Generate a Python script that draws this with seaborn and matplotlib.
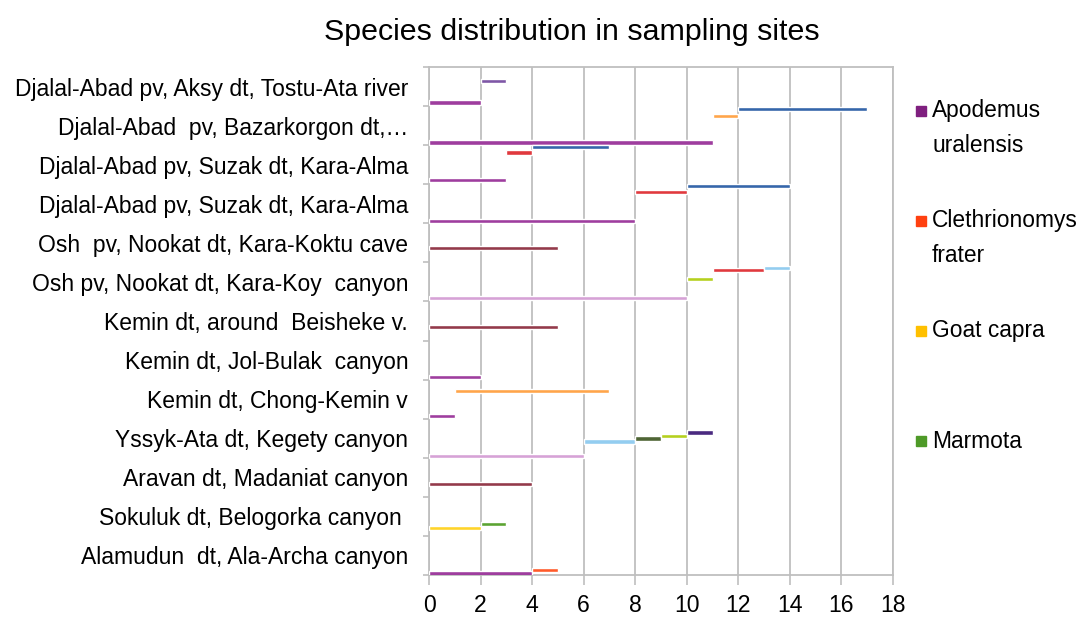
import matplotlib
matplotlib.use("Agg")
import matplotlib.pyplot as plt
from matplotlib import font_manager
from matplotlib.patches import Rectangle
import numpy as np
import pandas as pd
import seaborn as sns

# %%
# data (sites listed top to bottom)
sites = [
    "Djalal-Abad pv, Aksy dt, Tostu-Ata river",
    "Djalal-Abad  pv, Bazarkorgon dt,\u2026",
    "Djalal-Abad pv, Suzak dt, Kara-Alma",
    "Djalal-Abad pv, Suzak dt, Kara-Alma",
    "Osh  pv, Nookat dt, Kara-Koktu cave",
    "Osh pv, Nookat dt, Kara-Koy  canyon",
    "Kemin dt, around  Beisheke v.",
    "Kemin dt, Jol-Bulak  canyon",
    "Kemin dt, Chong-Kemin v",
    "Yssyk-Ata dt, Kegety canyon",
    "Aravan dt, Madaniat canyon",
    "Sokuluk dt, Belogorka canyon ",
    "Alamudun  dt, Ala-Archa canyon",
]

# stacked segments, in stacking order within each site
seg_site = [0, 0, 1, 1, 1, 2, 2, 2, 3, 3, 3, 4, 5, 5, 5, 5, 6, 7, 8, 8,
            9, 9, 9, 9, 9, 10, 11, 11, 12, 12]
seg_value = [2, 1, 11, 1, 5, 3, 1, 3, 8, 2, 4, 5, 10, 1, 2, 1, 5, 2, 1, 6,
             6, 2, 1, 1, 1, 4, 2, 1, 4, 1]

legend_labels = ["Apodemus\nuralensis", "Clethrionomys\nfrater", "Goat capra", "Marmota"]
x_ticks = list(range(0, 19, 2))

# %%
# styling / layout (not data)
seg_color = ["#9E3D9E", "#7E57A6",
             "#9E3D9E", "#FFA54A", "#3566AA",
             "#9E3D9E", "#E0393E", "#3566AA",
             "#9E3D9E", "#E0393E", "#3566AA",
             "#933A4A",
             "#D6A2D6", "#B5D01E", "#E0393E", "#93CDF0",
             "#933A4A",
             "#9E3D9E",
             "#9E3D9E", "#FFA54A",
             "#D6A2D6", "#93CDF0", "#4F6535", "#B5D01E", "#4A2A80",
             "#933A4A",
             "#FFD42A", "#5BA332",
             "#9E3D9E", "#FF5A2A"]
# vertical position of each segment inside its band (fraction from band top)
seg_offset = [0.91, 0.35,
              0.93, 0.25, 0.08,
              0.90, 0.19, 0.05,
              0.94, 0.20, 0.05,
              0.64,
              0.92, 0.42, 0.20, 0.15,
              0.66,
              0.93,
              0.94, 0.30,
              0.95, 0.58, 0.51, 0.44, 0.35,
              0.67,
              0.79, 0.70,
              0.96, 0.87]
legend_colors = ["#7F1F7F", "#FF4010", "#FFC000", "#4E9A28"]

sns.set_style("white")
avail = {f.name for f in font_manager.fontManager.ttflist}
fam = "Liberation Sans Narrow" if "Liberation Sans Narrow" in avail else "Liberation Sans"
plt.rcParams["font.family"] = [fam, "DejaVu Sans"]
plt.rcParams["text.color"] = "black"
plt.rcParams["xtick.labelcolor"] = "black"
plt.rcParams["ytick.labelcolor"] = "black"

df = pd.DataFrame({"site": seg_site, "value": seg_value,
                   "color": seg_color, "offset": seg_offset})
df["start"] = df.groupby("site")["value"].cumsum() - df["value"]
df["y"] = df["site"] - 0.5 + df["offset"]

W, H = 1081, 625
fig = plt.figure(figsize=(W / 100, H / 100), dpi=100)
ax = fig.add_axes([429 / W, 1 - 575 / H, (893 - 429) / W, (575 - 67) / H])

grid_c = "#BFBFBF"
for xv in x_ticks:
    ax.axvline(xv, color=grid_c, lw=1.3, zorder=0)

ax.barh(df["y"], df["value"], left=df["start"], height=0.11,
        color=df["color"], zorder=3)

ax.set_xlim(0, 18)
ax.set_ylim(len(sites) - 0.5, -0.5)
ax.set_xticks(x_ticks)
ax.set_xticklabels([str(v) for v in x_ticks], fontsize=16.6)
ax.set_yticks(np.arange(len(sites)))
ax.set_yticklabels(sites, fontsize=16.5)
ax.set_yticks(np.arange(len(sites) + 1) - 0.5, minor=True)
ax.tick_params(axis="y", which="major", length=0, pad=15, labelcolor="black")
ax.tick_params(axis="y", which="minor", length=4, width=1.2, color=grid_c, direction="out", left=True)
ax.tick_params(axis="x", length=7, width=1.2, color=grid_c, direction="out", bottom=True, pad=7,
               labelcolor="black")
for s in ax.spines.values():
    s.set_color(grid_c)
    s.set_linewidth(1.3)

fig.text(572 / W, 1 - 32 / H, "Species distribution in sampling sites",
         ha="center", va="center", fontsize=21.9, color="black")

# legend laid out like the original (first line of each entry aligned with its key)
for k, (lab, col) in enumerate(zip(legend_labels, legend_colors)):
    y0 = 111 + 110 * k
    fig.patches.append(Rectangle((916 / W, 1 - (y0 + 5) / H), 10 / W, 10 / H,
                                 transform=fig.transFigure, color=col))
    for j, line in enumerate(lab.split("\n")):
        fig.text(932 / W, 1 - (y0 + 35 * j) / H, line, ha="left", va="center",
                 fontsize=16.4, color="black")

fig.savefig("out.png", dpi=100)
